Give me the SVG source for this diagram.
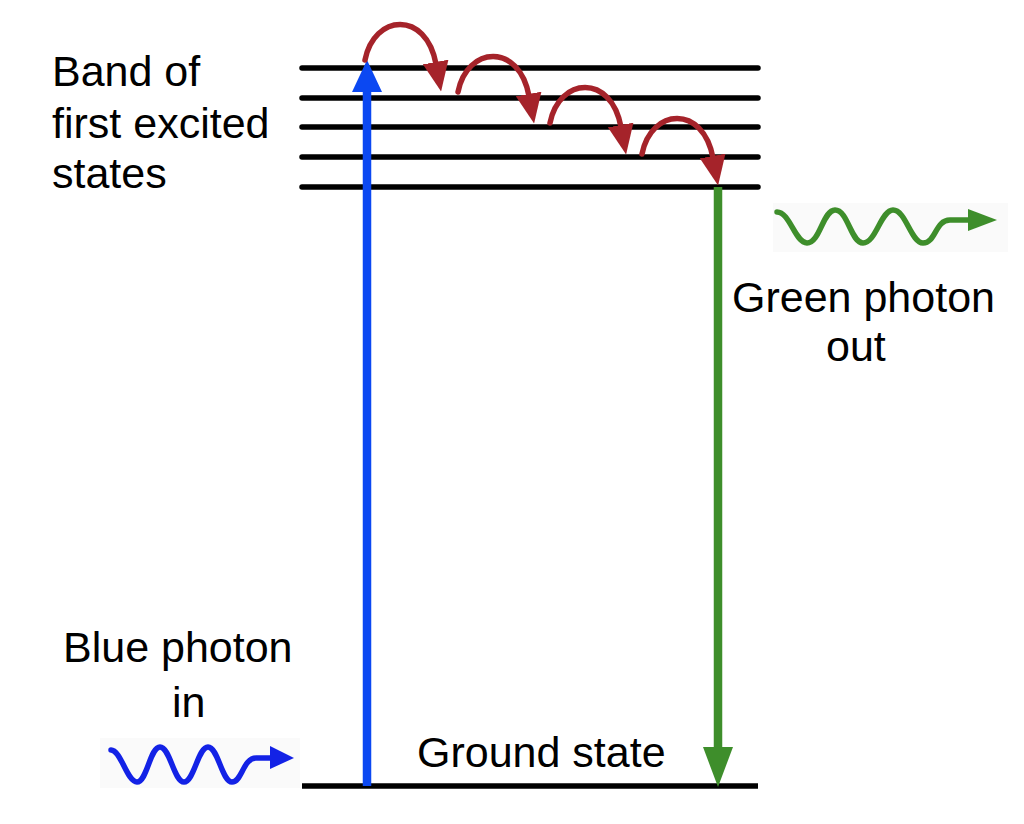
<svg xmlns="http://www.w3.org/2000/svg" width="1024" height="824" viewBox="0 0 1024 824">
<defs>
<style>
.lvl{stroke:#000;stroke-width:5.5;stroke-linecap:round;fill:none}
.hop{stroke:#a5232a;stroke-width:5.5;fill:none;stroke-linecap:round}
.lbl{font-family:"Liberation Sans",Arial,sans-serif;font-size:43px;fill:#000}
.bg{fill:#fafafa}
</style>
<marker id="redHead" markerUnits="userSpaceOnUse" viewBox="0 0 30 26" markerWidth="30" markerHeight="26" refX="2" refY="13" orient="auto">
<path d="M0,0 L30,13 L0,26 Z" fill="#a5232a"/>
</marker>
</defs>
<rect width="1024" height="824" fill="#fff"/>

<g id="levels">
<line class="lvl" x1="302" y1="68" x2="758" y2="68"/>
<line class="lvl" x1="302" y1="98" x2="758" y2="98"/>
<line class="lvl" x1="302" y1="127" x2="758" y2="127"/>
<line class="lvl" x1="302" y1="157" x2="758" y2="157"/>
<line class="lvl" x1="302" y1="187" x2="758" y2="187"/>
</g>
<g id="ground">
<line class="lvl" x1="302" y1="786" x2="758" y2="786" style="stroke-linecap:butt"/>
</g>

<g id="connectors">
<g id="blue-arrow">
<line x1="367" y1="786" x2="367" y2="88" stroke="#0b48f2" stroke-width="8.5"/>
<polygon points="352,92 367,60 382,92" fill="#0b48f2"/>
</g>
<g id="green-arrow">
<line x1="718" y1="187" x2="718" y2="750" stroke="#3e8e2b" stroke-width="8.5"/>
<polygon points="703,747 718,787 733,747" fill="#3e8e2b"/>
</g>
<g id="hops">
<path class="hop" d="M365,60 C374,14 426,10 436,64" marker-end="url(#redHead)"/>
<path class="hop" d="M458,92 C467,46 519,42 529,96" marker-end="url(#redHead)"/>
<path class="hop" d="M550,123 C559,77 611,73 621,127" marker-end="url(#redHead)"/>
<path class="hop" d="M642,154 C651,108 703,104 713,158" marker-end="url(#redHead)"/>
</g>
</g>

<g id="blue-photon">
<rect class="bg" x="100" y="738" width="200" height="50"/>
<path d="M111,750 C121,750 127,782 137,782 C147,782 150,747 160,747 C170,747 174,782 184,782 C194,782 198,747 208,747 C218,747 222,782 232,782 C242,782 243,758 256,758 L272,758" fill="none" stroke="#1322e6" stroke-width="5.5" stroke-linecap="round"/>
<polygon points="270,746 294,758 270,769" fill="#1322e6"/>
</g>

<g id="green-photon">
<rect class="bg" x="773" y="203" width="235" height="49"/>
<path d="M777,212 C790,212 795,243 807,243 C820,243 823,210 835,210 C848,210 851,243 863,243 C876,243 881,210 893,210 C906,210 911,243 923,243 C936,243 935,220 950,220 L970,220" fill="none" stroke="#3e8e2b" stroke-width="5.5" stroke-linecap="round"/>
<polygon points="968,209 997,220 968,231" fill="#3e8e2b"/>
</g>

<g id="label-band">
<text class="lbl" x="52" y="86">Band of</text>
<text class="lbl" x="52" y="138">first excited</text>
<text class="lbl" x="52" y="188">states</text>
</g>
<g id="label-green">
<text class="lbl" x="732" y="312">Green photon</text>
<text class="lbl" x="826" y="361">out</text>
</g>
<g id="label-blue">
<text class="lbl" x="63" y="662">Blue photon</text>
<text class="lbl" x="172" y="717">in</text>
</g>
<g id="label-ground">
<text class="lbl" x="417" y="767">Ground state</text>
</g>
</svg>
